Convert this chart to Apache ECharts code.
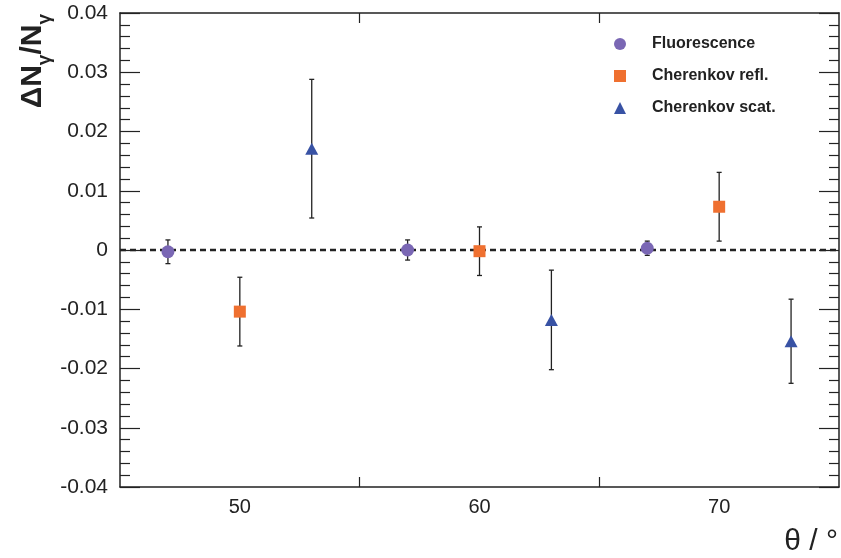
<!DOCTYPE html>
<html>
<head>
<meta charset="utf-8">
<script src="https://cdn.jsdelivr.net/npm/echarts@6/dist/echarts.min.js"></script>
<style>
html,body{margin:0;padding:0;background:#fff;}
#c{width:841px;height:558px;}
</style>
</head>
<body>
<div id="c"></div>
<script>
// ---- data ----
const fluoX = [47, 57, 67];
const fluoY = [-0.0003, 0.0000, 0.0003];
const fluoErr = [0.0020, 0.0017, 0.0012];

const reflX = [50, 60, 70];
const reflY = [-0.0104, -0.0002, 0.0073];
const reflErr = [0.0058, 0.0041, 0.0058];

const scatX = [53, 63, 73];
const scatY = [0.0171, -0.0118, -0.0154];
const scatErr = [0.0117, 0.0084, 0.0071];

const xLabelValues = [50, 60, 70];
const xTickValues = [55, 65];
const seriesNames = ['Fluorescence', 'Cherenkov refl.', 'Cherenkov scat.'];

const colFluo = '#7A67B4';
const colRefl = '#EF7030';
const colScat = '#3852A4';
const font = '"Liberation Sans", Arial, Helvetica, sans-serif';

function pts(xs, ys) { return xs.map((x, i) => [x, ys[i]]); }
function errs(xs, ys, es) { return xs.map((x, i) => [x, ys[i], es[i]]); }

function errRender(params, api) {
  const x = api.value(0), y = api.value(1), e = api.value(2);
  const hi = api.coord([x, y + e]);
  const lo = api.coord([x, y - e]);
  const cw = 2.5;
  const st = { stroke: '#222', lineWidth: 1.3 };
  return {
    type: 'group',
    children: [
      { type: 'line', shape: { x1: hi[0], y1: hi[1], x2: lo[0], y2: lo[1] }, style: st },
      { type: 'line', shape: { x1: hi[0] - cw, y1: hi[1], x2: hi[0] + cw, y2: hi[1] }, style: st },
      { type: 'line', shape: { x1: lo[0] - cw, y1: lo[1], x2: lo[0] + cw, y2: lo[1] }, style: st }
    ]
  };
}

function errSeries(data) {
  return {
    type: 'custom', renderItem: errRender, data: data, z: 3,
    encode: { x: 0, y: 1 }, silent: true
  };
}

const axisLineStyle = { color: '#222', width: 1.5 };
const tickLine = { color: '#222', width: 1.2 };

const chart = echarts.init(document.getElementById('c'), null, { renderer: 'canvas' });
chart.setOption({
  animation: false,
  backgroundColor: '#fff',
  grid: { left: 120, right: 2, top: 13, bottom: 71, containLabel: false },
  legend: {
    orient: 'vertical',
    left: 614, top: 36,
    padding: 0,
    itemWidth: 12, itemHeight: 12,
    itemGap: 16,
    data: seriesNames,
    textStyle: {
      fontFamily: font, fontWeight: 'bold', fontSize: 16, color: '#222',
      padding: [0, 0, 0, 21], lineHeight: 12, height: 12
    }
  },
  xAxis: [
    {
      type: 'value', min: 45, max: 75, interval: 5, position: 'bottom',
      axisLine: { onZero: false, lineStyle: axisLineStyle },
      axisTick: { show: true, inside: true, length: 10, customValues: xTickValues, lineStyle: tickLine },
      axisLabel: {
        customValues: xLabelValues, margin: 10,
        fontFamily: font, fontSize: 20, color: '#222'
      },
      splitLine: { show: false }
    },
    {
      type: 'value', min: 45, max: 75, interval: 5, position: 'top',
      axisLine: { onZero: false, lineStyle: axisLineStyle },
      axisTick: { show: true, inside: true, length: 10, customValues: xTickValues, lineStyle: tickLine },
      axisLabel: { show: false },
      splitLine: { show: false }
    }
  ],
  yAxis: [
    {
      type: 'value', min: -0.04, max: 0.04, interval: 0.01, position: 'left',
      axisLine: { onZero: false, lineStyle: axisLineStyle },
      axisTick: { show: true, inside: true, length: 20, lineStyle: tickLine },
      minorTick: { show: true, splitNumber: 5, length: 10, lineStyle: tickLine },
      axisLabel: {
        margin: 12, fontFamily: font, fontSize: 21, color: '#222',
        formatter: v => { const r = Math.round(v * 100) / 100; return r === 0 ? '0' : r.toFixed(2); }
      },
      splitLine: { show: false }
    },
    {
      type: 'value', min: -0.04, max: 0.04, interval: 0.01, position: 'right',
      axisLine: { onZero: false, lineStyle: axisLineStyle },
      axisTick: { show: true, inside: true, length: 20, lineStyle: tickLine },
      minorTick: { show: true, splitNumber: 5, length: 10, lineStyle: tickLine },
      axisLabel: { show: false },
      splitLine: { show: false }
    }
  ],
  series: [
    {
      type: 'line', data: [[45, 0], [75, 0]], symbol: 'none', z: 1, silent: true,
      lineStyle: { color: '#222', width: 2.5, type: [6, 4] }
    },
    errSeries(errs(fluoX, fluoY, fluoErr)),
    errSeries(errs(reflX, reflY, reflErr)),
    errSeries(errs(scatX, scatY, scatErr)),
    {
      name: seriesNames[0], type: 'scatter', data: pts(fluoX, fluoY), z: 5,
      symbol: 'circle', symbolSize: 13, itemStyle: { color: colFluo, opacity: 1 }
    },
    {
      name: seriesNames[1], type: 'scatter', data: pts(reflX, reflY), z: 5,
      symbol: 'rect', symbolSize: 12, itemStyle: { color: colRefl, opacity: 1 }
    },
    {
      name: seriesNames[2], type: 'scatter', data: pts(scatX, scatY), z: 5,
      symbol: 'triangle', symbolSize: [13, 12], itemStyle: { color: colScat, opacity: 1 }
    }
  ],
  graphic: [
    {
      type: 'text', x: 838, y: 557,
      style: {
        text: 'θ / °', fontFamily: font, fontSize: 30, fill: '#222',
        align: 'right', verticalAlign: 'bottom'
      }
    },
    {
      type: 'text', x: 48, y: 14, rotation: Math.PI / 2,
      style: {
        text: '{b|ΔN}{s|γ}{b|/N}{s|γ}',
        align: 'right', verticalAlign: 'bottom',
        rich: {
          b: { fontFamily: font, fontWeight: 'bold', fontSize: 30, fill: '#222', verticalAlign: 'bottom', lineHeight: 34 },
          s: { fontFamily: font, fontWeight: 'bold', fontSize: 19, fill: '#222', verticalAlign: 'bottom', lineHeight: 34, padding: [0, 0, -6, 0] }
        }
      }
    }
  ]
});
</script>
</body>
</html>
